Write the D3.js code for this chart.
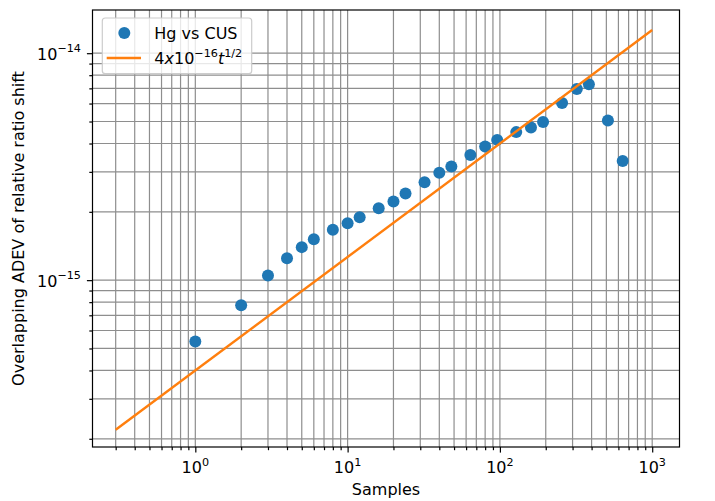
<!DOCTYPE html>
<html><head><meta charset="utf-8">
<script src="https://cdn.jsdelivr.net/npm/d3@7"></script>
<style>body{margin:0;background:#fff}svg{display:block}text{font-family:"DejaVu Sans",sans-serif;fill:#000}</style>
</head><body><svg id="c" width="715" height="501"></svg>
<script>
// Data
const samples = [1,2,3,4,5,6,8,10,12,16,20,24,32,40,48,64,80,96,128,160,192,256,320,384,512,640];
const adev = [5.37e-16,7.76e-16,1.049e-15,1.25e-15,1.398e-15,1.515e-15,1.666e-15,1.783e-15,1.895e-15,2.076e-15,2.222e-15,2.41e-15,2.70e-15,2.97e-15,3.17e-15,3.56e-15,3.88e-15,4.15e-15,4.49e-15,4.71e-15,4.98e-15,6.04e-15,6.96e-15,7.30e-15,5.05e-15,3.35e-15];
const fitT = [0.3, 1000];
const fitV = [2.19e-16, 1.265e-14];
const xMajor = [1,10,100,1000];
const xMajorExp = ["0","1","2","3"];
const yMajor = [1e-15,1e-14];
const yMajorExp = ["\u221215","\u221214"];
const seriesName = "Hg vs CUS";
const xLabel = "Samples";
const yLabel = "Overlapping ADEV of relative ratio shift";

const L = 92.5, R = 679.5, T = 10, B = 447;
const svg = d3.select("#c");
const x = d3.scaleLog().domain([0.2113, 1511]).range([L, R]);
const y = d3.scaleLog().domain([1.84e-16, 1.55e-14]).range([B, T]);

function minors(lo, hi) {
  const out = [];
  for (let e = Math.floor(Math.log10(lo)) - 1; e <= Math.ceil(Math.log10(hi)); e++) {
    for (let m = 1; m <= 9; m++) {
      const v = m * Math.pow(10, e);
      if (v >= lo && v <= hi) out.push(v);
    }
  }
  return out;
}
const xAll = minors(0.2113, 1511);
const yAll = minors(1.84e-16, 1.55e-14);
const isMajor = v => Math.abs(Math.log10(v) - Math.round(Math.log10(v))) < 1e-9;

const gridCol = "#8e8e8e";
const g = svg.append("g");
g.selectAll("line.gx").data(xAll).join("line")
  .attr("x1", d => x(d)).attr("x2", d => x(d)).attr("y1", T).attr("y2", B)
  .attr("stroke", gridCol).attr("stroke-width", 1.2);
g.selectAll("line.gy").data(yAll).join("line")
  .attr("y1", d => y(d)).attr("y2", d => y(d)).attr("x1", L).attr("x2", R)
  .attr("stroke", gridCol).attr("stroke-width", 1.2);

// points
svg.append("g").selectAll("circle").data(samples).join("circle")
  .attr("cx", d => x(d)).attr("cy", (d, i) => y(adev[i])).attr("r", 6)
  .attr("fill", "#1f77b4");

// fit line
svg.append("path").datum(fitT.map((t, i) => [t, fitV[i]]))
  .attr("d", d3.line().x(d => x(d[0])).y(d => y(d[1])))
  .attr("fill", "none").attr("stroke", "#ff7f0e").attr("stroke-width", 2.4);

// axes ticks
const xa = svg.append("g").attr("transform", `translate(0,${B})`)
  .call(d3.axisBottom(x).tickValues(xAll).tickFormat("").tickSizeOuter(0));
xa.selectAll(".tick line").attr("y2", d => isMajor(d) ? 5.6 : 3.2).attr("stroke-width", 1.2);
xa.select(".domain").remove();
const ya = svg.append("g").attr("transform", `translate(${L},0)`)
  .call(d3.axisLeft(y).tickValues(yAll).tickFormat("").tickSizeOuter(0));
ya.selectAll(".tick line").attr("x2", d => isMajor(d) ? -5.6 : -3.2).attr("stroke-width", 1.2);
ya.select(".domain").remove();

// frame
svg.append("rect").attr("x", L).attr("y", T).attr("width", R - L).attr("height", B - T)
  .attr("fill", "none").attr("stroke", "#000").attr("stroke-width", 1.2);

// tick labels
xMajor.forEach((v, i) => {
  const t = svg.append("text").attr("x", x(v)).attr("y", 473).attr("text-anchor", "middle").attr("font-size", 16);
  t.append("tspan").text("10");
  t.append("tspan").attr("dy", -7.5).attr("font-size", 11.2).text(xMajorExp[i]);
});
yMajor.forEach((v, i) => {
  const t = svg.append("text").attr("x", 81).attr("y", y(v) + 6.5).attr("text-anchor", "end").attr("font-size", 16);
  t.append("tspan").text("10");
  t.append("tspan").attr("dy", -7.5).attr("font-size", 11.2).text(yMajorExp[i]);
});

// axis labels
svg.append("text").attr("x", (L + R) / 2).attr("y", 495).attr("text-anchor", "middle").attr("font-size", 16).text(xLabel);
svg.append("text").attr("transform", `translate(24,${(T + B) / 2}) rotate(-90)`).attr("text-anchor", "middle").attr("font-size", 16).text(yLabel);

// legend
const lg = svg.append("g");
lg.append("rect").attr("x", 102.3).attr("y", 18).attr("width", 149.4).attr("height", 55.7).attr("rx", 3)
  .attr("fill", "#fff").attr("fill-opacity", 0.8).attr("stroke", "#cccccc").attr("stroke-width", 1.2);
lg.append("circle").attr("cx", 124.3).attr("cy", 33).attr("r", 6).attr("fill", "#1f77b4");
lg.append("line").attr("x1", 106.7).attr("x2", 141).attr("y1", 58).attr("y2", 58).attr("stroke", "#ff7f0e").attr("stroke-width", 2.4);
lg.append("text").attr("x", 154.3).attr("y", 38.7).attr("font-size", 16).text(seriesName);
const ft = lg.append("text").attr("x", 154.3).attr("y", 64).attr("font-size", 16);
ft.append("tspan").text("4");
ft.append("tspan").attr("font-style", "italic").text("x");
ft.append("tspan").text("10");
ft.append("tspan").attr("dy", -7.5).attr("font-size", 11.2).text("\u221216");
ft.append("tspan").attr("dy", 7.5).attr("font-style", "italic").text("t");
ft.append("tspan").attr("dy", -7.5).attr("font-size", 11.2).text("1/2");
</script></body></html>
